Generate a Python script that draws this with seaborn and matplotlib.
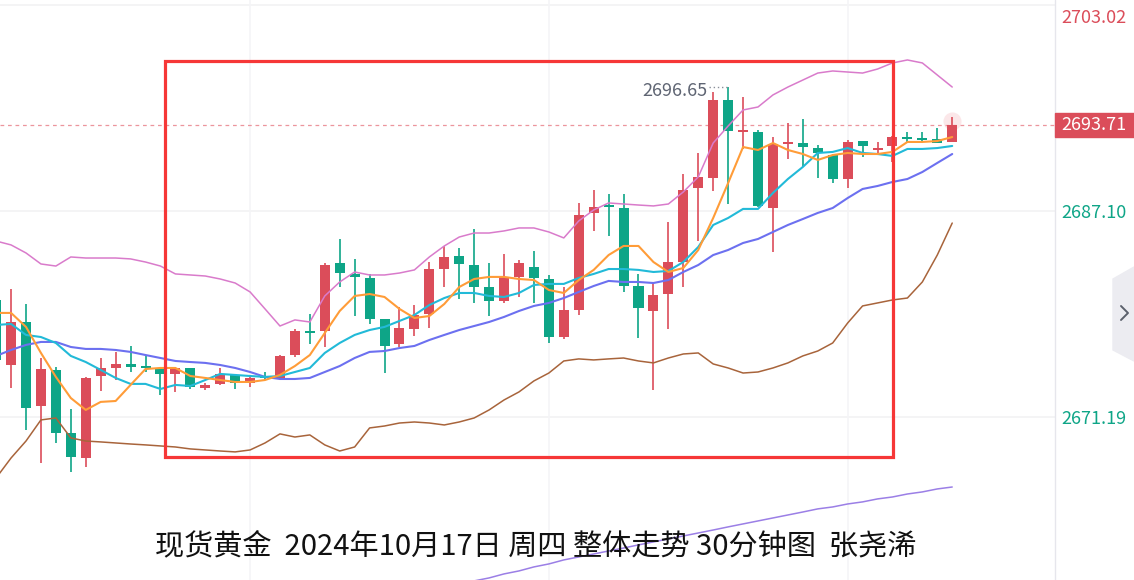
import numpy as np
import pandas as pd
import matplotlib
matplotlib.use("Agg")
import matplotlib.pyplot as plt
import seaborn as sns
from matplotlib.patches import Rectangle, Polygon
from matplotlib.lines import Line2D

# 30-minute candles, spot gold
opens = [2680.23, 2675.21, 2678.53, 2672.05, 2674.83, 2669.96, 2668.03, 2674.36, 2674.98, 2675.29,
         2675.06, 2674.90, 2674.52, 2674.98, 2673.44, 2673.75, 2674.44, 2673.82, 2674.29, 2674.13,
         2675.98, 2677.84, 2677.84, 2683.09, 2682.24, 2681.93, 2678.76, 2676.83, 2677.99, 2679.15,
         2682.62, 2683.63, 2682.93, 2681.23, 2680.15, 2682.01, 2682.78, 2681.85, 2677.37, 2679.46,
         2686.95, 2687.49, 2687.33, 2681.31, 2679.38, 2680.69, 2683.16, 2688.88, 2689.65, 2695.67,
         2693.20, 2693.20, 2687.33, 2692.27, 2692.35, 2691.96, 2691.42, 2689.57, 2692.50, 2691.81,
         2692.12, 2692.74, 2692.66, 2692.66, 2692.43]
highs = [2680.77, 2681.08, 2679.92, 2675.75, 2675.06, 2671.82, 2674.29, 2675.75, 2676.22, 2676.68,
         2675.98, 2674.98, 2675.06, 2674.98, 2673.82, 2674.98, 2674.44, 2674.29, 2674.67, 2675.98,
         2677.99, 2679.15, 2683.09, 2684.94, 2683.40, 2682.24, 2678.76, 2679.69, 2679.84, 2683.16,
         2684.40, 2684.24, 2685.71, 2683.09, 2683.78, 2683.32, 2684.01, 2682.16, 2681.23, 2687.72,
         2688.72, 2688.41, 2688.41, 2682.24, 2681.62, 2686.25, 2689.96, 2691.58, 2696.29, 2696.65,
         2695.90, 2693.35, 2692.81, 2693.89, 2694.20, 2692.20, 2691.50, 2692.58, 2692.50, 2692.43,
         2692.89, 2693.20, 2693.20, 2693.51, 2694.36]
lows = [2675.06, 2673.44, 2670.19, 2667.65, 2669.19, 2666.95, 2667.34, 2673.20, 2674.05, 2674.67,
        2674.67, 2672.90, 2673.13, 2673.36, 2673.28, 2673.67, 2673.36, 2673.51, 2674.05, 2674.13,
        2675.83, 2676.83, 2676.60, 2681.23, 2678.99, 2678.38, 2674.59, 2676.60, 2677.45, 2678.07,
        2681.23, 2680.31, 2680.00, 2678.99, 2680.00, 2680.46, 2680.00, 2676.91, 2677.22, 2679.07,
        2685.56, 2685.17, 2680.85, 2677.30, 2673.28, 2677.99, 2681.23, 2684.78, 2688.64, 2687.64,
        2691.89, 2687.41, 2683.94, 2691.12, 2690.50, 2689.65, 2689.26, 2688.88, 2691.27, 2691.50,
        2690.88, 2692.35, 2692.35, 2692.35, 2692.43]
closes = [2675.60, 2678.53, 2671.89, 2674.90, 2669.96, 2668.11, 2674.21, 2674.98, 2675.29, 2675.06,
          2674.98, 2674.52, 2674.98, 2673.51, 2673.67, 2674.52, 2673.82, 2674.21, 2674.21, 2675.91,
          2677.84, 2677.68, 2682.93, 2682.31, 2682.01, 2678.76, 2676.68, 2678.07, 2679.07, 2682.62,
          2683.55, 2683.01, 2681.23, 2680.15, 2682.01, 2683.09, 2681.93, 2677.37, 2679.46, 2686.79,
          2687.41, 2687.41, 2681.31, 2679.61, 2680.62, 2683.16, 2688.72, 2689.73, 2695.67, 2693.28,
          2693.28, 2687.49, 2692.27, 2692.35, 2692.04, 2691.58, 2689.57, 2692.43, 2692.12, 2691.89,
          2692.81, 2692.66, 2692.58, 2692.35, 2693.71]

# moving averages / bollinger bands
ma_orange = [2679.23, 2679.23, 2678.15, 2676.14, 2674.29, 2672.66, 2671.74, 2672.36, 2672.43, 2673.67,
             2674.90, 2674.98, 2674.98, 2674.36, 2674.21, 2674.05, 2673.90, 2673.90, 2674.05, 2674.44,
             2675.13, 2675.98, 2677.68, 2679.38, 2680.54, 2680.69, 2680.46, 2679.54, 2678.84, 2678.99,
             2679.92, 2681.23, 2681.85, 2682.01, 2682.01, 2681.85, 2681.77, 2681.00, 2680.77, 2681.77,
             2682.55, 2683.70, 2684.40, 2684.40, 2683.16, 2682.39, 2682.70, 2684.09, 2686.56, 2689.26,
             2692.04, 2691.81, 2692.35, 2691.81, 2691.50, 2691.04, 2691.42, 2691.58, 2691.50, 2691.50,
             2691.66, 2692.43, 2692.43, 2692.50, 2692.81]
ma_cyan = [2678.30, 2678.38, 2677.53, 2677.37, 2676.91, 2675.91, 2675.44, 2674.83, 2674.21, 2673.75,
           2673.75, 2673.36, 2673.67, 2673.59, 2674.05, 2674.52, 2674.44, 2674.36, 2674.29, 2674.36,
           2674.67, 2674.98, 2676.14, 2676.91, 2677.53, 2677.91, 2678.15, 2678.61, 2679.07, 2679.84,
           2680.38, 2680.77, 2680.77, 2680.54, 2680.46, 2680.77, 2681.39, 2681.47, 2681.47, 2681.93,
           2682.24, 2682.62, 2682.62, 2682.55, 2682.39, 2682.47, 2683.16, 2684.32, 2686.02, 2686.56,
           2687.26, 2687.26, 2688.49, 2689.57, 2690.50, 2691.58, 2691.66, 2691.96, 2691.58, 2691.50,
           2691.35, 2691.89, 2691.89, 2691.96, 2692.12]
ma_blue = [2675.91, 2676.37, 2676.76, 2676.99, 2676.99, 2676.60, 2676.45, 2676.45, 2676.37, 2676.22,
           2675.98, 2675.75, 2675.52, 2675.44, 2675.37, 2675.21, 2674.98, 2674.67, 2674.29, 2674.13,
           2674.13, 2674.21, 2674.67, 2675.13, 2675.75, 2676.22, 2676.29, 2676.52, 2676.68, 2677.14,
           2677.53, 2677.91, 2678.22, 2678.53, 2678.92, 2679.38, 2679.77, 2680.00, 2680.38, 2680.85,
           2681.31, 2681.70, 2681.62, 2681.62, 2681.54, 2681.77, 2682.39, 2682.93, 2683.70, 2684.09,
           2684.63, 2684.94, 2685.48, 2686.02, 2686.48, 2686.95, 2687.33, 2688.10, 2688.80, 2689.03,
           2689.34, 2689.57, 2690.11, 2690.81, 2691.50]
boll_upper = [2684.78, 2684.48, 2683.86, 2683.01, 2682.85, 2683.55, 2683.47, 2683.47, 2683.47, 2683.40,
              2683.16, 2682.85, 2682.24, 2682.16, 2682.08, 2681.85, 2681.54, 2680.85, 2679.54, 2678.22,
              2678.69, 2678.53, 2680.54, 2681.62, 2682.39, 2682.16, 2682.16, 2682.31, 2682.55, 2683.55,
              2684.40, 2685.09, 2685.40, 2685.40, 2685.56, 2685.79, 2685.79, 2685.48, 2685.02, 2686.33,
              2687.18, 2687.72, 2687.64, 2687.56, 2687.49, 2687.64, 2688.57, 2689.73, 2692.35, 2693.66,
              2694.90, 2695.13, 2696.06, 2696.67, 2697.21, 2697.75, 2697.91, 2697.83, 2697.75, 2698.06,
              2698.53, 2698.76, 2698.53, 2697.60, 2696.67]
boll_lower = [2666.49, 2668.03, 2669.34, 2670.97, 2671.12, 2669.58, 2669.34, 2669.27, 2669.19, 2669.11,
              2669.04, 2668.96, 2668.88, 2668.73, 2668.65, 2668.57, 2668.50, 2668.65, 2669.19, 2669.89,
              2669.65, 2669.81, 2669.04, 2668.57, 2668.88, 2670.35, 2670.50, 2670.73, 2670.81, 2670.73,
              2670.58, 2670.81, 2671.12, 2671.74, 2672.51, 2673.13, 2673.98, 2674.59, 2675.52, 2675.68,
              2675.60, 2675.68, 2675.75, 2675.52, 2675.37, 2675.75, 2676.06, 2676.14, 2675.29, 2674.98,
              2674.59, 2674.67, 2674.98, 2675.37, 2675.91, 2676.29, 2676.91, 2678.45, 2679.77, 2680.00,
              2680.23, 2680.38, 2681.62, 2683.70, 2686.17]
# long MA only visible on the right part of the chart
ma_purple = [np.nan] * 32 + [
    2658.54, 2658.77, 2659.08, 2659.31, 2659.62, 2659.85, 2660.16, 2660.39, 2660.62, 2660.85,
    2661.08, 2661.32, 2661.55, 2661.78, 2662.01, 2662.24, 2662.47, 2662.71, 2662.94, 2663.17,
    2663.40, 2663.63, 2663.86, 2664.10, 2664.25, 2664.48, 2664.64, 2664.87, 2665.02, 2665.25,
    2665.41, 2665.64, 2665.79]

price_ticks = [2671.19, 2687.10, 2703.02]
last_price = 2693.71
peak_price = 2696.65
title = "现货黄金  2024年10月17日 周四 整体走势 30分钟图  张尧浠"

RED = "#DB4D5A"
GREEN = "#0EA587"

df = pd.DataFrame({
    "idx": np.arange(len(closes)),
    "open": opens, "high": highs, "low": lows, "close": closes,
    "ma_orange": ma_orange, "ma_cyan": ma_cyan, "ma_blue": ma_blue,
    "boll_upper": boll_upper, "boll_lower": boll_lower, "ma_purple": ma_purple,
})

sns.set_theme(style="white")
plt.rcParams['font.family'] = ['Noto Sans CJK SC', 'DejaVu Sans']

W, H = 1134, 580
fig = plt.figure(figsize=(W / 100, H / 100), dpi=100)
ax = fig.add_axes([0, 0, 1055 / W, 1])
ax.set_xlim(0.26, 70.88)
ax.set_ylim(2658.61, 2703.39)

# grid
for p in price_ticks:
    ax.axhline(p, color="#F2F2F4", lw=1.2, zorder=0)
for gi in [17, 37, 57]:
    ax.axvline(gi, color="#F5F5F7", lw=1.2, zorder=0)

# candles
up = df["close"] >= df["open"]
colors = np.where(up, RED, GREEN)
ax.vlines(df["idx"], df["low"], df["high"], colors=colors, lw=1.2, zorder=2)
body_lo = df[["open", "close"]].min(axis=1)
body_h = (df["close"] - df["open"]).abs().clip(lower=0.13)
ax.bar(df["idx"], body_h, bottom=body_lo, width=0.67, color=colors, linewidth=0, zorder=2)

# indicator lines
lines = [("boll_upper", "#D97BCB", 1.1), ("boll_lower", "#A8643B", 1.1),
         ("ma_purple", "#9B7FE6", 1.1), ("ma_blue", "#6C70F0", 1.5),
         ("ma_cyan", "#22BAD8", 1.5), ("ma_orange", "#FF9C38", 1.5)]
for col, c, lw in lines:
    sns.lineplot(data=df, x="idx", y=col, color=c, lw=lw, ax=ax, zorder=3)

ax.set_xlabel("")
ax.set_ylabel("")
ax.set_xticks([])
ax.set_yticks([])
for s in ax.spines.values():
    s.set_visible(False)

# last price line and glow on last candle
ax.axhline(last_price, color="#EC959D", lw=0.9, ls=(0, (3, 3)), zorder=1)
ax.scatter([df["idx"].iloc[-1]], [df["high"].iloc[-1] - 0.3], s=170, color="#F3A0A8",
           alpha=0.25, linewidths=0, zorder=1)

# highest price label
pk = int(np.argmax(highs))
ax.hlines(peak_price, pk - 1.25, pk - 0.1, colors="#8A8F99", linestyles=(0, (1, 2)), lw=1.0, zorder=3)
ax.annotate(f"{peak_price:.2f}", xy=(pk, peak_price), xytext=(-21, -4), textcoords="offset pixels",
            ha="right", va="center", fontsize=13, color="#5F6573")

# right price scale
ytr = ax.get_yaxis_transform()
for p in price_ticks:
    col = RED if p > last_price else GREEN
    off = -13 if p == max(price_ticks) else -2
    ax.annotate(f"{p:.2f}", xy=(1, p), xycoords=ytr, xytext=(6, off), textcoords="offset pixels",
                ha="left", va="center", fontsize=13, color=col, annotation_clip=False)

fig.canvas.draw()
ylp = ax.transData.transform((0, last_price))[1] / H
fig.patches.append(Rectangle((1055 / W, ylp - 12 / H), 79 / W, 24 / H, transform=fig.transFigure,
                             color=RED, zorder=5))
fig.text(1061 / W, ylp, f"{last_price:.2f}", color="white", fontsize=13, ha="left", va="center",
         zorder=6)

# separator and side button
fig.add_artist(Line2D([1055 / W, 1055 / W], [0, 1], transform=fig.transFigure, color="#E6E6EC", lw=1))
btn = [(1134, 267), (1113, 279), (1113, 350), (1134, 361)]
fig.patches.append(Polygon([(x / W, 1 - y / H) for x, y in btn], closed=True, transform=fig.transFigure,
                           color="#ECECF1", zorder=4))
fig.add_artist(Line2D([1121 / W, 1128 / W, 1121 / W], [1 - 306 / H, 1 - 313 / H, 1 - 320 / H],
                      transform=fig.transFigure, color="#5B606C", lw=1.4, zorder=5))

# highlight box
fig.patches.append(Rectangle((165 / W, 1 - 457 / H), (893 - 165) / W, (457 - 61) / H, fill=False,
                             ec="#F63737", lw=2.3, transform=fig.transFigure, zorder=6))

fig.text(536 / W, 1 - 546 / H, title, ha="center", va="center", fontsize=21, color="#111111")

fig.savefig("out.png", dpi=100)
